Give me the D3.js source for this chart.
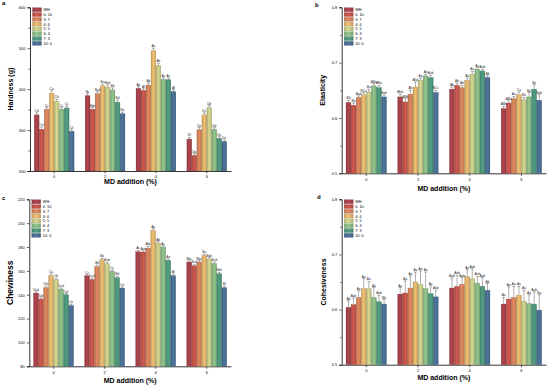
<!DOCTYPE html>
<html>
<head>
<meta charset="utf-8">
<script src="https://cdn.jsdelivr.net/npm/d3@7"></script>
<style>
  body { margin: 0; background: #fff; }
  svg { font-family: Arial, "Liberation Sans", sans-serif; }
  .tick text { font-size: 4px; }
  .axis-title { font-size: 7px; font-weight: bold; }
  .panel-letter { font-size: 6px; font-weight: bold; }
  .bar-label { font-size: 3.2px; fill: #222; }
  .legend text { font-size: 3.8px; }
</style>
</head>
<body>
<div id="chart"></div>
<script>
const groups = ["0", "2", "4", "6"];
const ratios = ["WH", "0: 10", "3: 7", "4: 6", "5: 5", "6: 4", "7: 3", "10: 0"];
const colors = ["#a9424b", "#c9554c", "#d9855b", "#e7b96f", "#cdd08a", "#8dbf88", "#4f9a7e", "#4a7198"];

// a - hardness
const hardness = [
  [337, 302, 351, 390, 370, 351, 354, 297],
  [384, 351, 389, 408, 405, 398, 368, 340],
  [402, 397, 410, 494, 458, 424, 423, 394],
  [278, 238, 301, 337, 355, 302, 280, 272]
];
const hardnessErr = [
  [5, 5, 4, 6, 5, 4, 5, 4],
  [5, 4, 5, 4, 5, 5, 5, 4],
  [4, 4, 5, 6, 5, 4, 4, 5],
  [4, 4, 5, 5, 5, 4, 4, 4]
];
const hardnessLabels = [
  ["Cd", "Ce", "Cc", "Ca", "Cb", "Cc", "Cc", "Cf"],
  ["Bc", "Bde", "Bcd", "Ba", "Bab", "Bb", "Bd", "Be"],
  ["Ae", "Af", "Ad", "Aa", "Ab", "Ac", "Ac", "Af"],
  ["Df", "Dg", "De", "Dc", "Db", "Dd", "De", "De"]
];

// b - elasticity
const elasticity = [
  [0.628, 0.623, 0.637, 0.642, 0.647, 0.658, 0.655, 0.638],
  [0.638, 0.629, 0.643, 0.656, 0.668, 0.676, 0.673, 0.646],
  [0.652, 0.659, 0.655, 0.668, 0.679, 0.688, 0.685, 0.673],
  [0.617, 0.627, 0.635, 0.642, 0.633, 0.638, 0.652, 0.632]
];
const elasticityErr = [
  [0.004, 0.004, 0.003, 0.004, 0.005, 0.004, 0.004, 0.003],
  [0.005, 0.006, 0.007, 0.009, 0.004, 0.003, 0.004, 0.004],
  [0.004, 0.004, 0.004, 0.004, 0.005, 0.003, 0.003, 0.003],
  [0.004, 0.004, 0.004, 0.005, 0.004, 0.008, 0.008, 0.010]
];
const elasticityLabels = [
  ["Bb", "Bb", "Aab", "BCa", "Ba", "ABa", "ABa", "Bab"],
  ["ABab", "ABb", "Ab", "ABab", "Aa", "Aa", "Aab", "BCc"],
  ["Ab", "Ab", "Ab", "Aa", "Aa", "Aa", "Aab", "Ab"],
  ["ABb", "ABa", "Aa", "Ca", "Ba", "Ba", "Ba", "Bab"]
];

// c - chewiness
const chewiness = [
  [141.4, 136.4, 145.9, 155.9, 152.6, 144.7, 140.0, 131.0],
  [155.9, 152.8, 163.5, 169.3, 166.0, 159.8, 154.2, 145.6],
  [176.0, 175.8, 179.1, 193.9, 183.3, 180.0, 168.8, 155.9],
  [167.4, 164.3, 167.4, 172.7, 169.9, 166.3, 157.6, 145.9]
];
const chewinessErr = [
  [1.2, 1.0, 1.2, 1.5, 1.2, 1.0, 1.0, 1.0],
  [1.0, 1.2, 1.2, 1.2, 1.2, 1.0, 1.2, 1.0],
  [1.2, 1.2, 1.5, 1.5, 1.2, 1.2, 1.2, 1.2],
  [1.2, 1.2, 1.2, 1.2, 1.2, 1.2, 1.2, 1.2]
];
const chewinessLabels = [
  ["Dcd", "Dd", "Cbc", "Ca", "Cb", "Dcd", "Cd", "Ce"],
  ["Cc", "Ccd", "Bb", "Ba", "Bab", "Cc", "Bd", "Ce"],
  ["Ac", "Acd", "Abc", "Aa", "Ab", "Ac", "Ae", "Af"],
  ["Bbc", "Bcd", "Bbc", "Ba", "Bab", "Bcd", "Bde", "Bf"]
];

// d - cohesiveness
const cohesiveness = [
  [0.604, 0.609, 0.622, 0.638, 0.638, 0.622, 0.614, 0.610],
  [0.628, 0.630, 0.639, 0.650, 0.646, 0.638, 0.629, 0.623],
  [0.639, 0.642, 0.646, 0.660, 0.656, 0.648, 0.642, 0.635],
  [0.610, 0.619, 0.622, 0.626, 0.615, 0.611, 0.610, 0.599]
];
const cohesivenessErr = [
  [0.012, 0.012, 0.012, 0.018, 0.013, 0.018, 0.012, 0.008],
  [0.012, 0.022, 0.022, 0.018, 0.024, 0.030, 0.014, 0.012],
  [0.018, 0.020, 0.012, 0.012, 0.018, 0.012, 0.016, 0.012],
  [0.012, 0.022, 0.020, 0.016, 0.020, 0.016, 0.022, 0.028]
];
const cohesivenessLabels = [
  ["Ab", "Aab", "Aa", "Aa", "Aa", "Aa", "Aab", "Bb"],
  ["Aa", "Aa", "Aa", "Aa", "Aa", "Aa", "Aa", "Aab"],
  ["Aab", "Aab", "Aab", "Aa", "Aab", "Aab", "Aab", "Ab"],
  ["Aa", "Aa", "Aa", "Aa", "Aa", "Aa", "Aab", "Ba"]
];

const width = 550, height = 388;
const svg = d3.select("#chart").append("svg")
  .attr("width", width)
  .attr("height", height);

// bar shading gradient per color
const defs = svg.append("defs");
colors.forEach((c, i) => {
  const g = defs.append("linearGradient").attr("id", "grad" + i)
    .attr("x1", "0%").attr("x2", "100%").attr("y1", "0%").attr("y2", "0%");
  g.append("stop").attr("offset", "0%").attr("stop-color", d3.color(c).darker(0.5));
  g.append("stop").attr("offset", "45%").attr("stop-color", d3.color(c).brighter(0.15));
  g.append("stop").attr("offset", "100%").attr("stop-color", d3.color(c).darker(0.4));
});

const panels = [
  { letter: "a", title: "Hardness (g)", values: hardness, err: hardnessErr, labels: hardnessLabels,
    left: 30, right: 231, top: 7.3, bottom: 171, domain: [200, 600], major: 100, minor: 50, fmt: d3.format("d"),
    letterPos: [2, 5], titleX: 13, titleSize: 7, xTitleY: 184 },
  { letter: "b", title: "Elasticity", values: elasticity, err: elasticityErr, labels: elasticityLabels,
    left: 341.7, right: 546, top: 7.3, bottom: 173.3, domain: [0.5, 0.8], major: 0.1, minor: 0.05, fmt: d3.format(".1f"),
    letterPos: [315, 7], titleX: 325, titleSize: 7, xTitleY: 191 },
  { letter: "c", title: "Chewiness", values: chewiness, err: chewinessErr, labels: chewinessLabels,
    left: 29.3, right: 231, top: 199.3, bottom: 366.3, domain: [80, 220], major: 20, minor: null, fmt: d3.format("d"),
    letterPos: [2, 200], titleX: 13, titleSize: 8.5, xTitleY: 383 },
  { letter: "d", title: "Cohesiveness", values: cohesiveness, err: cohesivenessErr, labels: cohesivenessLabels,
    left: 341.7, right: 546, top: 199.3, bottom: 364.7, domain: [0.5, 0.8], major: 0.1, minor: 0.05, fmt: d3.format(".1f"),
    letterPos: [317, 199], titleX: 326, titleSize: 7, xTitleY: 380 }
];

panels.forEach(drawPanel);

function drawPanel(p) {
  const g = svg.append("g");

  const x0 = d3.scaleBand().domain(groups).range([p.left, p.right])
    .paddingInner(0.21).paddingOuter(0.08);
  const x1 = d3.scaleBand().domain(ratios).range([0, x0.bandwidth()]).padding(0.04);
  const y = d3.scaleLinear().domain(p.domain).range([p.bottom, p.top]);

  const majorTicks = d3.range(p.domain[0], p.domain[1] + p.major / 2, p.major);

  // y axis
  g.append("g")
    .attr("transform", `translate(${p.left},0)`)
    .call(d3.axisLeft(y).tickValues(majorTicks).tickFormat(p.fmt).tickSize(2.5).tickPadding(2));
  if (p.minor) {
    const minorTicks = d3.range(p.domain[0] + p.minor, p.domain[1], p.major);
    g.append("g")
      .attr("transform", `translate(${p.left},0)`)
      .call(d3.axisLeft(y).tickValues(minorTicks).tickFormat("").tickSize(1.5))
      .select(".domain").remove();
  }

  // x axis
  g.append("g")
    .attr("transform", `translate(0,${p.bottom})`)
    .call(d3.axisBottom(x0).tickSize(2.5).tickPadding(2).tickSizeOuter(0));

  g.selectAll(".domain").attr("stroke-width", 0.8);
  g.selectAll(".tick line").attr("stroke-width", 0.6);

  // bars
  const grp = g.append("g").selectAll("g")
    .data(groups)
    .join("g")
    .attr("transform", d => `translate(${x0(d)},0)`);

  grp.each(function(gName, gi) {
    const sel = d3.select(this);
    const rows = ratios.map((r, ri) => ({
      r, ri,
      v: p.values[gi][ri],
      e: p.err[gi][ri],
      lab: p.labels[gi][ri]
    }));

    sel.selectAll("rect")
      .data(rows)
      .join("rect")
      .attr("x", d => x1(d.r))
      .attr("width", x1.bandwidth())
      .attr("y", d => y(d.v))
      .attr("height", d => p.bottom - y(d.v))
      .attr("fill", d => `url(#grad${d.ri})`)
      .attr("stroke", d => d3.color(colors[d.ri]).darker(0.8))
      .attr("stroke-width", 0.3);

    // error bars
    sel.selectAll("line.err")
      .data(rows)
      .join("line")
      .attr("class", "err")
      .attr("x1", d => x1(d.r) + x1.bandwidth() / 2)
      .attr("x2", d => x1(d.r) + x1.bandwidth() / 2)
      .attr("y1", d => y(d.v))
      .attr("y2", d => y(d.v + d.e))
      .attr("stroke", "#333")
      .attr("stroke-width", 0.4);
    sel.selectAll("line.cap")
      .data(rows)
      .join("line")
      .attr("class", "cap")
      .attr("x1", d => x1(d.r) + x1.bandwidth() * 0.2)
      .attr("x2", d => x1(d.r) + x1.bandwidth() * 0.8)
      .attr("y1", d => y(d.v + d.e))
      .attr("y2", d => y(d.v + d.e))
      .attr("stroke", "#333")
      .attr("stroke-width", 0.4);

    sel.selectAll("text.bar-label")
      .data(rows)
      .join("text")
      .attr("class", "bar-label")
      .attr("x", d => x1(d.r) + x1.bandwidth() / 2)
      .attr("y", d => y(d.v + d.e) - 1)
      .attr("text-anchor", "middle")
      .attr("textLength", d => d.lab.length > 3 ? 6 : null)
      .attr("lengthAdjust", "spacingAndGlyphs")
      .text(d => d.lab);
  });

  // legend
  const leg = g.append("g").attr("class", "legend")
    .attr("transform", `translate(${p.left + 2.5},${p.top + 0.5})`);
  const rowH = 4.8;
  ratios.forEach((r, i) => {
    leg.append("rect")
      .attr("x", 0).attr("y", i * rowH)
      .attr("width", 9).attr("height", rowH - 0.9)
      .attr("fill", `url(#grad${i})`)
      .attr("stroke", d3.color(colors[i]).darker(0.8))
      .attr("stroke-width", 0.3);
    leg.append("text")
      .attr("x", 11).attr("y", i * rowH + rowH - 1.4)
      .text(r);
  });

  // titles
  g.append("text")
    .attr("class", "axis-title")
    .style("font-size", p.titleSize + "px")
    .attr("transform", `translate(${p.titleX},${(p.top + p.bottom) / 2}) rotate(-90)`)
    .attr("text-anchor", "middle")
    .text(p.title);

  g.append("text")
    .attr("class", "axis-title")
    .attr("x", (p.left + p.right) / 2)
    .attr("y", p.xTitleY)
    .attr("text-anchor", "middle")
    .text("MD addition (%)");

  g.append("text")
    .attr("class", "panel-letter")
    .attr("x", p.letterPos[0])
    .attr("y", p.letterPos[1])
    .text(p.letter);
}
</script>
</body>
</html>
